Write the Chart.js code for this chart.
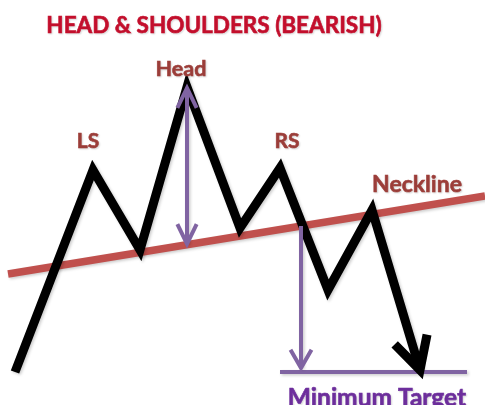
<!DOCTYPE html>
<html>
<head>
<meta charset="utf-8">
<script src="https://cdn.jsdelivr.net/npm/chart.js@4"></script>
<style>
  html, body { margin: 0; padding: 0; background: #fff; }
  #wrap { width: 485px; height: 405px; }
</style>
</head>
<body>
<div id="wrap"><canvas id="grafica"></canvas></div>
<script>
// precio (x = tiempo, y = precio)
const priceX = [15, 93, 140, 187, 240, 280, 328, 372, 420];
const priceY = [33, 235, 155, 318, 177, 237, 115, 195, 35];
// neckline
const necklineX = [8, 485];
const necklineY = [131, 209];
// altura de la cabeza y proyeccion
const headMoveX = [187, 187];
const headMoveY = [317, 161];
const targetMoveX = [301, 301];
const targetMoveY = [179, 37];
const targetLineX = [280, 467];
const targetLineY = [33, 33];
// textos
const titleText = "HEAD & SHOULDERS (BEARISH)";
const titleX = 214;
const titleY = 379;
const labelText = ["Head", "LS", "RS", "Neckline"];
const labelX = [181, 88, 287, 417];
const labelY = [336, 264, 264, 220];
const labelSize = [21.5, 21, 21, 23];
const targetText = "Minimum Target";
const targetTextX = 377;
const targetTextY = 7;

const toPoints = (xs, ys) => xs.map((x, i) => ({ x: x, y: ys[i] }));

const arrowPlugin = {
  id: 'arrows',
  afterDatasetsDraw(chart) {
    const ctx = chart.ctx;
    chart.data.datasets.forEach((ds, i) => {
      if (!ds.arrow) return;
      const pts = chart.getDatasetMeta(i).data;
      const head = (tip, from) => {
        const back = Math.atan2(from.y - tip.y, from.x - tip.x);
        const a = ds.arrow.angle * Math.PI / 180;
        const s = ds.arrow.size;
        ctx.beginPath();
        ctx.moveTo(tip.x + s * Math.cos(back - a), tip.y + s * Math.sin(back - a));
        ctx.lineTo(tip.x, tip.y);
        ctx.lineTo(tip.x + s * Math.cos(back + a), tip.y + s * Math.sin(back + a));
        ctx.stroke();
      };
      ctx.save();
      ctx.strokeStyle = ds.borderColor;
      ctx.lineWidth = ds.borderWidth;
      ctx.lineJoin = 'miter';
      ctx.lineCap = 'butt';
      const n = pts.length;
      if (ds.arrow.end) head(pts[n - 1], pts[n - 2]);
      if (ds.arrow.start) head(pts[0], pts[1]);
      ctx.restore();
    });
  },
  afterDraw(chart) {
    const ctx = chart.ctx;
    const sx = chart.scales.x, sy = chart.scales.y;
    const texto = (t, x, y, size, color) => {
      ctx.font = 'bold ' + size + 'px Lato';
      ctx.fillStyle = color;
      ctx.strokeStyle = color;
      ctx.lineWidth = 0.6;
      ctx.fillText(t, sx.getPixelForValue(x), sy.getPixelForValue(y));
      ctx.strokeText(t, sx.getPixelForValue(x), sy.getPixelForValue(y));
    };
    ctx.save();
    ctx.textAlign = 'center';
    ctx.textBaseline = 'middle';
    ctx.shadowColor = 'rgba(0,0,0,0.15)';
    ctx.shadowBlur = 2;
    ctx.shadowOffsetX = 1;
    ctx.shadowOffsetY = 1;
    texto(titleText, titleX, titleY, 22.5, '#c8102e');
    labelText.forEach((t, i) => texto(t, labelX[i], labelY[i], labelSize[i], '#a0403c'));
    texto(targetText, targetTextX, targetTextY, 24.5, '#7030a0');
    ctx.restore();
  }
};

const shadowPlugin = {
  id: 'sombra',
  beforeDatasetsDraw(chart) {
    const ctx = chart.ctx;
    ctx.save();
    ctx.shadowColor = 'rgba(0,0,0,0.2)';
    ctx.shadowBlur = 3;
    ctx.shadowOffsetX = 1.5;
    ctx.shadowOffsetY = 1.5;
  },
  afterDatasetsDraw(chart) {
    chart.ctx.restore();
  }
};

const grafica = document.getElementById('grafica');
const myChart = new Chart(grafica, {
  type: 'line',
  data: {
    datasets: [
      {
        label: 'Neckline',
        data: toPoints(necklineX, necklineY),
        borderColor: '#c0504d',
        borderWidth: 7.5,
        order: 3
      },
      {
        label: 'Precio',
        data: toPoints(priceX, priceY),
        borderColor: '#000000',
        borderWidth: 9,
        borderJoinStyle: 'miter',
        arrow: { end: true, size: 36, angle: 28 },
        order: 2
      },
      {
        label: 'Altura',
        data: toPoints(headMoveX, headMoveY),
        borderColor: '#8064a2',
        borderWidth: 4,
        arrow: { start: true, end: true, size: 22, angle: 26 },
        order: 1
      },
      {
        label: 'Proyeccion',
        data: toPoints(targetMoveX, targetMoveY),
        borderColor: '#8064a2',
        borderWidth: 4,
        arrow: { end: true, size: 21, angle: 30 },
        order: 1
      },
      {
        label: 'Objetivo',
        data: toPoints(targetLineX, targetLineY),
        borderColor: '#8064a2',
        borderWidth: 4,
        order: 1
      }
    ]
  },
  options: {
    responsive: true,
    maintainAspectRatio: false,
    animation: false,
    layout: { padding: 0 },
    elements: { point: { radius: 0 }, line: { tension: 0 } },
    plugins: { legend: { display: false }, tooltip: { enabled: false } },
    scales: {
      x: { type: 'linear', min: 0, max: 485, display: false },
      y: { min: 0, max: 405, display: false }
    }
  },
  plugins: [shadowPlugin, arrowPlugin]
});
</script>
</body>
</html>
